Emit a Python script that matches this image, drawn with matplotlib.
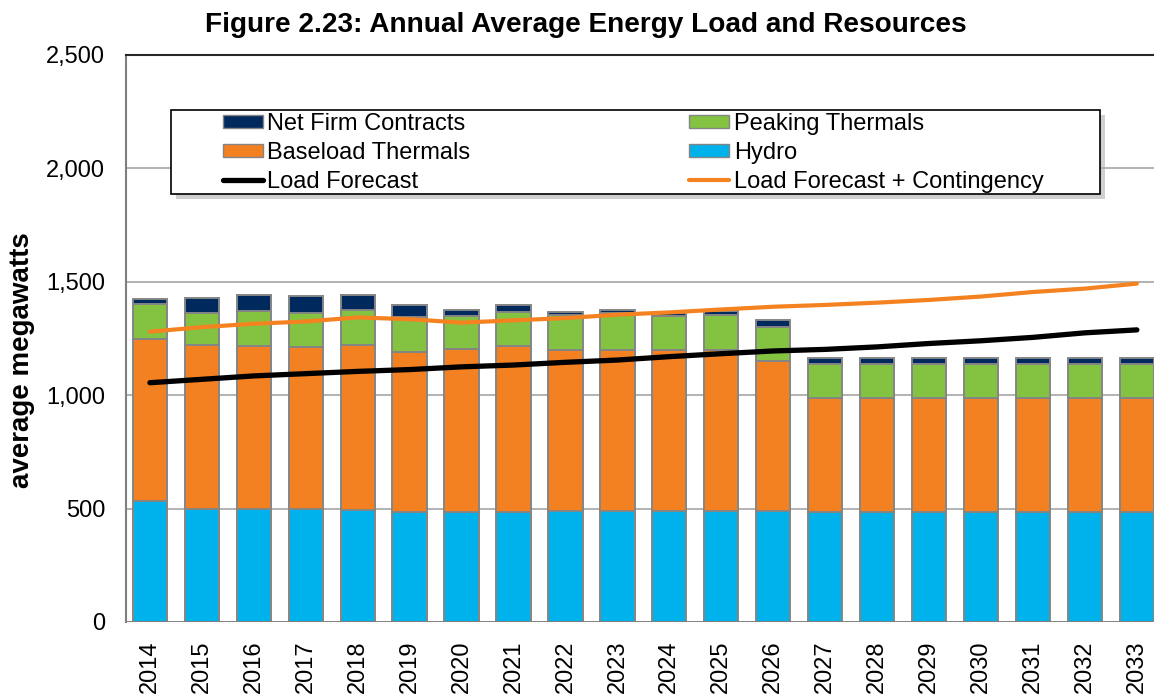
import matplotlib.pyplot as plt
import numpy as np
from matplotlib.patches import Rectangle, Patch
from matplotlib.lines import Line2D

plt.rcParams['font.family'] = ['Liberation Sans', 'DejaVu Sans']

years = [str(y) for y in range(2014, 2034)]
hydro = [533, 500, 500, 500, 494, 486, 486, 486, 488, 488,
         488, 488, 488, 486, 486, 486, 486, 486, 486, 486]
baseload = [716, 723, 718, 712, 729, 706, 718, 730, 710, 710,
            710, 710, 663, 502, 502, 502, 502, 502, 502, 502]
peaking = [153, 141, 152, 150, 153, 153, 147, 152, 155, 163,
           151, 157, 151, 148, 148, 148, 148, 148, 148, 148]
net_firm = [21, 66, 73, 75, 67, 51, 25, 28, 15, 15,
            12, 15, 28, 28, 28, 28, 28, 28, 28, 28]
load_forecast = [1055, 1070, 1085, 1095, 1105, 1113, 1125, 1133, 1145, 1155,
                 1170, 1183, 1195, 1202, 1213, 1228, 1240, 1255, 1275, 1288]
load_contingency = [1280, 1300, 1315, 1325, 1343, 1335, 1320, 1330, 1340, 1355,
                    1365, 1378, 1390, 1398, 1408, 1420, 1435, 1455, 1470, 1492]

c_navy = '#002A5E'
c_green = '#84C341'
c_orange = '#F38021'
c_blue = '#00B2EB'
edge = '#858585'

fig = plt.figure(figsize=(11.54, 6.98), dpi=100)
ax = fig.add_axes([126 / 1154, 76 / 698, 1 - 126 / 1154, 567 / 698])

x = np.arange(len(years))
w = 0.66
kw = dict(width=w, edgecolor=edge, linewidth=1.4, zorder=2)
b0 = np.array(hydro)
b1 = b0 + np.array(baseload)
b2 = b1 + np.array(peaking)
ax.bar(x, hydro, color=c_blue, **kw)
ax.bar(x, baseload, bottom=b0, color=c_orange, **kw)
ax.bar(x, peaking, bottom=b1, color=c_green, **kw)
ax.bar(x, net_firm, bottom=b2, color=c_navy, **kw)

ax.plot(x, load_forecast, color='black', linewidth=3.8, solid_capstyle='round', zorder=3)
ax.plot(x, load_contingency, color='#F58220', linewidth=3.0, solid_capstyle='round', zorder=3)

ax.set_xlim(-0.46, 19.33)
ax.set_ylim(0, 2500)
ax.set_yticks(range(0, 2501, 500))
ax.set_yticklabels([f'{v:,}' for v in range(0, 2501, 500)], fontsize=17)
ax.set_xticks(x)
ax.set_xticklabels(years, rotation=90, fontsize=17)
ax.tick_params(axis='both', length=0)
ax.tick_params(axis='y', pad=15)
ax.tick_params(axis='x', pad=13)
ax.yaxis.grid(True, color='#A6A6A6', linewidth=1.2, zorder=0)
ax.set_axisbelow(True)
for s in ['right', 'bottom']:
    ax.spines[s].set_visible(False)
ax.spines['left'].set_color('#7F7F7F')
ax.spines['left'].set_linewidth(1.5)
ax.spines['top'].set_color('#262626')
ax.spines['top'].set_linewidth(1.5)
ax.axhline(0, color='#7F7F7F', linewidth=2, zorder=4)

ax.set_ylabel('average megawatts', fontsize=20, fontweight='bold')
ax.yaxis.set_label_coords(-91 / 1028, 0.462)
fig.text(586 / 1154, 1 - 25 / 698, 'Figure 2.23: Annual Average Energy Load and Resources',
         ha='center', va='center', fontsize=20.2, fontweight='bold')

# legend frame with shadow, drawn in figure pixels
W, H = 1154, 698
lx0, lx1, ly0, ly1 = 171, 1100, 110, 194
shadow = Rectangle((lx0 + 5, H - ly1 - 5), lx1 - lx0, ly1 - ly0, transform=None,
                   facecolor='#B0B0B0', edgecolor='none', alpha=0.6, zorder=5)
frame = Rectangle((lx0, H - ly1), lx1 - lx0, ly1 - ly0, transform=None,
                  facecolor='white', edgecolor='black', linewidth=1.2, zorder=6)
fig.patches.extend([shadow, frame])

handles = [Patch(facecolor=c_navy, edgecolor=edge),
           Patch(facecolor=c_orange, edgecolor=edge),
           Line2D([], [], color='black', linewidth=3.8, solid_capstyle='round'),
           Patch(facecolor=c_green, edgecolor=edge),
           Patch(facecolor=c_blue, edgecolor=edge),
           Line2D([], [], color='#F58220', linewidth=3.0, solid_capstyle='round')]
labels = ['Net Firm Contracts', 'Baseload Thermals', 'Load Forecast',
          'Peaking Thermals', 'Hydro', 'Load Forecast + Contingency']
leg = fig.legend(handles, labels, ncol=2, frameon=False, fontsize=17,
                 loc='upper left', bbox_to_anchor=(219 / W, 1 - 109 / H),
                 handlelength=1.7, handleheight=0.47, handletextpad=0.2,
                 labelspacing=0.30, columnspacing=9.25, borderpad=0.15,
                 borderaxespad=0)
leg.set_zorder(7)

fig.savefig('out.png', dpi=100)
